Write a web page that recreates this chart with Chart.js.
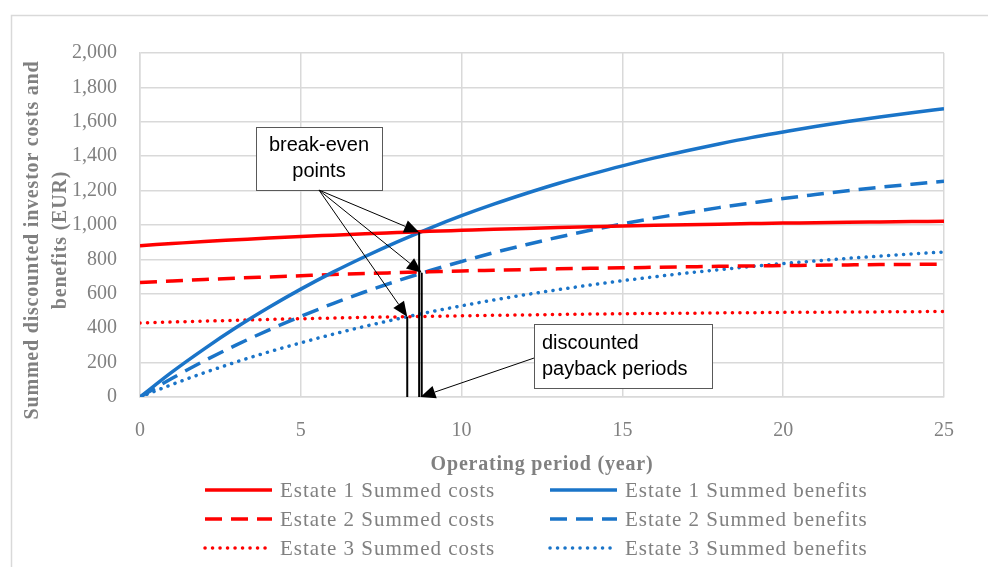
<!DOCTYPE html>
<html>
<head>
<meta charset="utf-8">
<script src="https://cdn.jsdelivr.net/npm/chart.js@4.4.0/dist/chart.umd.min.js"></script>
<style>
  html, body { margin: 0; padding: 0; background: #ffffff; }
  #wrap { width: 988px; height: 567px; position: relative; }
</style>
</head>
<body>
<div id="wrap"><canvas id="chart" width="988" height="567"></canvas></div>
<script>
// Operating years
const years = [0,1,2,3,4,5,6,7,8,9,10,11,12,13,14,15,16,17,18,19,20,21,22,23,24,25];

// Summed discounted investor costs (EUR)
const estate1Costs = [880,892,904,914,924,933,941,949,956,963,969,975,980,985,990,994,998,1001,1005,1008,1011,1013,1016,1018,1020,1022];
const estate2Costs = [665,674,683,691,698,705,712,718,723,728,733,737,741,745,748,751,754,757,760,762,764,766,768,770,771,773];
const estate3Costs = [430,436,441,446,451,455,459,463,466,469,472,475,477,480,482,484,486,487,489,490,492,493,494,495,496,497];

// Summed discounted investor benefits (EUR)
const estate1Benefits = [0,146,280,405,520,627,726,817,902,981,1054,1121,1183,1241,1294,1344,1390,1432,1471,1508,1541,1573,1602,1628,1653,1676];
const estate2Benefits = [0,109,210,303,389,469,543,612,675,734,788,839,885,929,969,1006,1040,1071,1101,1128,1154,1177,1199,1219,1237,1254];
const estate3Benefits = [0,73,141,204,262,315,365,411,454,494,530,564,595,624,651,676,699,721,740,759,776,791,806,819,832,843];

const seriesNames = [
  'Estate 1 Summed costs', 'Estate 1 Summed benefits',
  'Estate 2 Summed costs', 'Estate 2 Summed benefits',
  'Estate 3 Summed costs', 'Estate 3 Summed benefits'
];

// Break-even points (year, EUR) and the payback year they drop to
const breakEvenYears  = [8.68, 8.76, 8.31];
const breakEvenValues = [958, 722, 467];

const axisTitleY = ['Summed discounted investor costs and', 'benefits (EUR)'];
const axisTitleX = 'Operating period (year)';
const noteBreakEven = ['break-even', 'points'];
const notePayback = ['discounted', 'payback periods'];

const RED = '#ff0000';
const BLUE = '#1a74c8';
const GREY_TEXT = '#808080';
const GRID = '#d9d9d9';
const SERIF = '"Liberation Serif", "DejaVu Serif", serif';
const SANS = '"Liberation Sans", Arial, sans-serif';

const pts = arr => years.map((y, i) => ({ x: y, y: arr[i] }));
const DASH = [17, 9];
const DOT = [0.1, 7.4];

function series(label, data, color, dash) {
  return {
    label, data: pts(data),
    borderColor: color, backgroundColor: color,
    borderWidth: 3.5, borderDash: dash,
    borderCapStyle: dash === DOT ? 'round' : 'butt',
    pointRadius: 0, cubicInterpolationMode: 'monotone', fill: false
  };
}

const datasets = [
  series(seriesNames[0], estate1Costs, RED, []),
  series(seriesNames[1], estate1Benefits, BLUE, []),
  series(seriesNames[2], estate2Costs, RED, DASH),
  series(seriesNames[3], estate2Benefits, BLUE, DASH),
  series(seriesNames[4], estate3Costs, RED, DOT),
  series(seriesNames[5], estate3Benefits, BLUE, DOT)
];

function arrow(ctx, x0, y0, x1, y1) {
  const ang = Math.atan2(y1 - y0, x1 - x0);
  const len = 15, half = 6.5;
  const bx = x1 - len * Math.cos(ang), by = y1 - len * Math.sin(ang);
  ctx.beginPath();
  ctx.moveTo(x0, y0); ctx.lineTo(bx, by);
  ctx.lineWidth = 1; ctx.strokeStyle = '#000'; ctx.setLineDash([]);
  ctx.stroke();
  ctx.beginPath();
  ctx.moveTo(x1, y1);
  ctx.lineTo(bx + half * Math.sin(ang), by - half * Math.cos(ang));
  ctx.lineTo(bx - half * Math.sin(ang), by + half * Math.cos(ang));
  ctx.closePath();
  ctx.fillStyle = '#000';
  ctx.fill();
}

function noteBox(ctx, x0, y0, x1, y1, lines, align) {
  ctx.fillStyle = '#fff';
  ctx.fillRect(x0, y0, x1 - x0, y1 - y0);
  ctx.lineWidth = 1; ctx.strokeStyle = '#595959'; ctx.setLineDash([]);
  ctx.strokeRect(Math.round(x0) + 0.5, Math.round(y0) + 0.5, Math.round(x1 - x0), Math.round(y1 - y0));
  ctx.fillStyle = '#000';
  ctx.font = '20px ' + SANS;
  ctx.textBaseline = 'middle';
  const lh = 26;
  const cy = (y0 + y1) / 2 - (lines.length - 1) * lh / 2;
  lines.forEach((t, i) => {
    if (align === 'center') { ctx.textAlign = 'center'; ctx.fillText(t, (x0 + x1) / 2, cy + i * lh); }
    else { ctx.textAlign = 'left'; ctx.fillText(t, x0 + 8, cy + i * lh); }
  });
}

const decor = {
  id: 'decor',
  beforeDraw(chart) {
    const ctx = chart.ctx;
    ctx.save();
    ctx.strokeStyle = GRID; ctx.lineWidth = 1.5;
    ctx.strokeRect(11.5, 15.5, 1100, 700);
    ctx.restore();
  },
  afterDraw(chart) {
    const ctx = chart.ctx;
    const xs = chart.scales.x, ys = chart.scales.y;
    const area = chart.chartArea;
    ctx.save();

    // payback drop lines
    ctx.strokeStyle = '#000'; ctx.lineWidth = 2; ctx.setLineDash([]);
    breakEvenYears.forEach((yr, i) => {
      const px = xs.getPixelForValue(yr);
      ctx.beginPath();
      ctx.moveTo(px, ys.getPixelForValue(breakEvenValues[i]));
      ctx.lineTo(px, ys.getPixelForValue(0));
      ctx.stroke();
    });

    // break-even note
    const b0 = xs.getPixelForValue(3.61), b1 = xs.getPixelForValue(7.52);
    const bt = ys.getPixelForValue(1570), bb = ys.getPixelForValue(1203);
    noteBox(ctx, b0, bt, b1, bb, noteBreakEven, 'center');
    const ox = (b0 + b1) / 2, oy = bb;
    breakEvenYears.forEach((yr, i) => {
      arrow(ctx, ox, oy, xs.getPixelForValue(yr), ys.getPixelForValue(breakEvenValues[i]));
    });

    // payback note
    const p0 = xs.getPixelForValue(12.25), p1 = xs.getPixelForValue(17.79);
    const pt = ys.getPixelForValue(424), pb = ys.getPixelForValue(52);
    noteBox(ctx, p0, pt, p1, pb, notePayback, 'left');
    arrow(ctx, p0, (pt + pb) / 2 + 2, xs.getPixelForValue(8.72), ys.getPixelForValue(0));

    // axis titles
    ctx.fillStyle = GREY_TEXT;
    ctx.font = 'bold 20px ' + SERIF;
    ctx.letterSpacing = '0.8px';
    ctx.textAlign = 'center'; ctx.textBaseline = 'alphabetic';
    ctx.save();
    ctx.translate(0, 240);
    ctx.rotate(-Math.PI / 2);
    ctx.fillText(axisTitleY[0], 0, 38);
    ctx.fillText(axisTitleY[1], 0, 66);
    ctx.restore();
    ctx.textBaseline = 'middle';
    ctx.fillText(axisTitleX, (area.left + area.right) / 2, 465);

    // legend
    const cols = [205, 550];
    const rows = [490, 519, 548];
    ctx.font = '21px ' + SERIF;
    ctx.letterSpacing = '1px';
    ctx.textAlign = 'left'; ctx.textBaseline = 'middle';
    chart.data.datasets.forEach((ds, i) => {
      const cx = cols[i % 2], cy = rows[Math.floor(i / 2)];
      ctx.beginPath();
      ctx.strokeStyle = ds.borderColor; ctx.lineWidth = 3.5;
      ctx.setLineDash(ds.borderDash); ctx.lineCap = ds.borderCapStyle;
      ctx.moveTo(cx, cy); ctx.lineTo(cx + 67, cy);
      ctx.stroke();
      ctx.setLineDash([]); ctx.lineCap = 'butt';
      ctx.fillStyle = GREY_TEXT;
      ctx.fillText(ds.label, cx + 75, cy + 1);
    });
    ctx.letterSpacing = '0px';
    ctx.restore();
  }
};

new Chart(document.getElementById('chart'), {
  type: 'line',
  data: { datasets },
  options: {
    responsive: false,
    animation: false,
    devicePixelRatio: 1,
    layout: { padding: { top: 53, right: 44, left: 0, bottom: 0 } },
    plugins: { legend: { display: false }, tooltip: { enabled: false } },
    scales: {
      x: {
        type: 'linear', min: 0, max: 25,
        ticks: { stepSize: 5, color: GREY_TEXT, font: { family: SERIF, size: 20 }, padding: 22 },
        grid: { color: GRID, lineWidth: 1.5, drawTicks: false },
        border: { color: GRID, width: 1.5 },
        afterFit(s) { s.height = 170; }
      },
      y: {
        min: 0, max: 2000,
        ticks: { stepSize: 200, color: GREY_TEXT, font: { family: SERIF, size: 20 }, padding: 23 },
        grid: { color: GRID, lineWidth: 1.5, drawTicks: false },
        border: { color: GRID, width: 1.5 },
        afterFit(s) { s.width = 140; }
      }
    }
  },
  plugins: [decor]
});
</script>
</body>
</html>
